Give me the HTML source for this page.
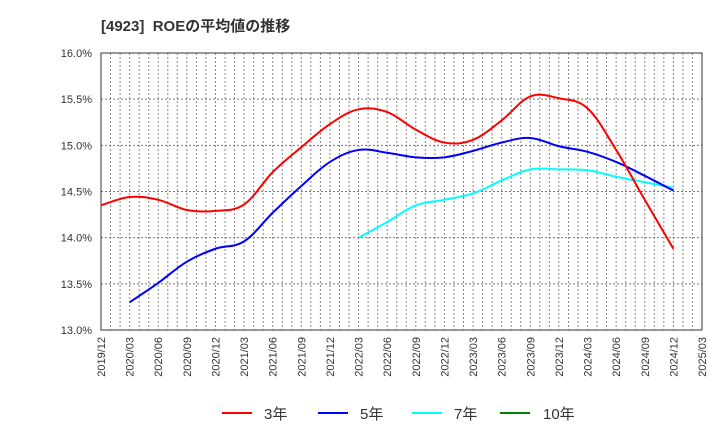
<!DOCTYPE html>
<html><head><meta charset="utf-8"><style>
body{margin:0;background:#fff;font-family:"Liberation Sans","Noto Sans CJK JP",sans-serif;}
svg text{font-family:"Liberation Sans","Noto Sans CJK JP",sans-serif;}
</style></head><body>
<svg id="chart" width="720" height="440" xmlns="http://www.w3.org/2000/svg">
<text x="101" y="31" font-size="15" font-weight="bold" fill="#333">[4923]&#160;&#160;ROEの平均値の推移</text>
<g id="grid"></g><g id="axes"></g><g id="series"></g>
<g font-size="15" fill="#333">
<g><line x1="222" y1="413" x2="252" y2="413" stroke="#ff0000" stroke-width="2"/><text x="264" y="419">3年</text></g>
<g><line x1="318" y1="413" x2="348" y2="413" stroke="#0000ff" stroke-width="2"/><text x="360" y="419">5年</text></g>
<g><line x1="412" y1="413" x2="442" y2="413" stroke="#00ffff" stroke-width="2"/><text x="454" y="419">7年</text></g>
<g><line x1="500" y1="413" x2="530" y2="413" stroke="#008000" stroke-width="2"/><text x="543" y="419">10年</text></g>
</g>
</svg>
<script>
const xLabels=["2019/12","2020/03","2020/06","2020/09","2020/12","2021/03","2021/06","2021/09","2021/12","2022/03","2022/06","2022/09","2022/12","2023/03","2023/06","2023/09","2023/12","2024/03","2024/06","2024/09","2024/12","2025/03"];
const yTicks=[13.0,13.5,14.0,14.5,15.0,15.5,16.0];
// values per quarter index (0 = 2019/12); null = no data
const roe3=[14.35,14.44,14.41,14.30,14.29,14.36,14.71,14.98,15.23,15.39,15.36,15.17,15.03,15.06,15.27,15.53,15.51,15.40,14.95,14.41,13.88];
const roe5=[null,13.30,13.51,13.74,13.88,13.96,14.27,14.56,14.82,14.95,14.92,14.87,14.87,14.94,15.03,15.08,14.99,14.93,14.82,14.67,14.51];
const roe7=[null,null,null,null,null,null,null,null,null,14.00,14.17,14.35,14.41,14.48,14.62,14.74,14.74,14.73,14.66,14.60,14.54];
const roe10=[];
const L=101,R=702,T=53,B=330,NM=63;
const xq=i=>L+(i*3)*(R-L)/NM;
const xm=m=>L+m*(R-L)/NM;
const y=v=>B-(v-13)*(B-T)/3;
const NS="http://www.w3.org/2000/svg";
function mk(tag,attrs,parent){const e=document.createElementNS(NS,tag);for(const k in attrs)e.setAttribute(k,attrs[k]);parent.appendChild(e);return e;}
const grid=document.getElementById('grid'),axes=document.getElementById('axes'),ser=document.getElementById('series');
for(let m=1;m<NM;m++){const l=mk('line',{x1:xm(m),x2:xm(m),y1:T,y2:B,stroke:'#888','stroke-dasharray':'2,2','stroke-width':1},grid);

}
yTicks.forEach(v=>{const l=mk('line',{x1:L,x2:R,y1:y(v),y2:y(v),stroke:'#777','stroke-dasharray':'2,2','stroke-width':1},grid);


const t=mk('text',{x:92,y:y(v)+4,'text-anchor':'end','font-size':11,fill:'#333'},axes);
t.textContent=v.toFixed(1)+'%';

});
const fr=mk('rect',{x:L,y:T,width:R-L,height:B-T,fill:'none',stroke:'#333','stroke-width':1},axes);


xLabels.forEach((s,i)=>{const x=xq(i);const t=mk('text',{x:0,y:0,'text-anchor':'end','font-size':11,fill:'#333',transform:`translate(${x+4},337) rotate(-90)`},axes);
t.textContent=s;

});
function draw(data,color,name){const pts=[];data.forEach((v,i)=>{if(v!=null)pts.push([xq(i),y(v)]);});
if(pts.length<2)return;
let d=`M${pts[0][0]},${pts[0][1]}`;
const k=0.18;
for(let i=0;i<pts.length-1;i++){const p0=pts[Math.max(0,i-1)],p1=pts[i],p2=pts[i+1],p3=pts[Math.min(pts.length-1,i+2)];
const c1x=p1[0]+(p2[0]-p0[0])*k,c1y=p1[1]+(p2[1]-p0[1])*k,c2x=p2[0]-(p3[0]-p1[0])*k,c2y=p2[1]-(p3[1]-p1[1])*k;
d+=` C${c1x},${c1y} ${c2x},${c2y} ${p2[0]},${p2[1]}`;}
const p=mk('path',{d:d,fill:'none',stroke:color,'stroke-width':2,'stroke-linejoin':'round'},ser);

}
draw(roe7,'#00ffff','series-7y');
draw(roe5,'#0000ff','series-5y');
draw(roe3,'#ff0000','series-3y');
draw(roe10,'#008000','series-10y');
</script>
</body></html>
